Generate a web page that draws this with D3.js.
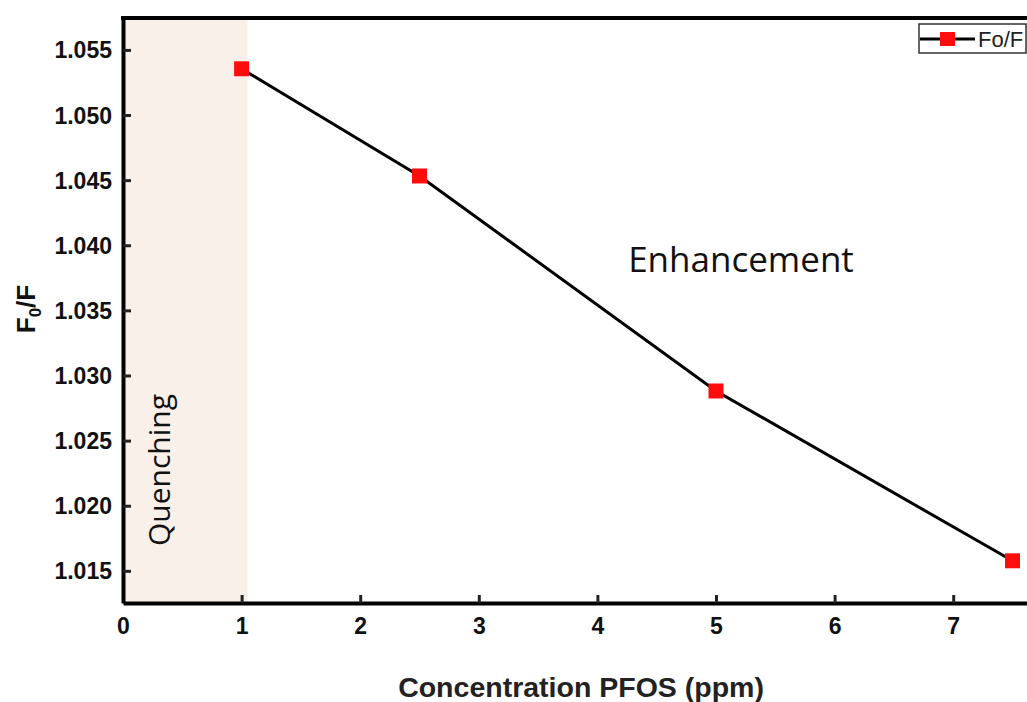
<!DOCTYPE html>
<html>
<head>
<meta charset="utf-8">
<script src="https://cdn.jsdelivr.net/npm/d3@7"></script>
<style>
  body { margin: 0; background: #fff; }
  svg { display: block; font-family: "Liberation Sans", Arial, sans-serif; }
</style>
</head>
<body>
<div id="chart"></div>
<script>
// Data
const concentration = [1, 2.5, 5, 7.5];
const ratio = [1.05355, 1.04532, 1.02881, 1.01577];
const xTicks = [0, 1, 2, 3, 4, 5, 6, 7];
const yTicks = [1.015, 1.020, 1.025, 1.030, 1.035, 1.040, 1.045, 1.050, 1.055];
const quenchEnd = [1.05];

const width = 1027;
const height = 702;
const margin = { left: 123, top: 18, bottom: 99 };

const svg = d3.select('#chart')
  .append('svg')
  .attr('width', width)
  .attr('height', height);

const x = d3.scaleLinear().domain([0, 8]).range([margin.left, margin.left + 8 * 118.6]);
const y = d3.scaleLinear().domain([1.01253, 1.05745]).range([height - margin.bottom, margin.top]);

// Quenching band
svg.append('rect')
  .attr('x', x(0))
  .attr('y', y.range()[1])
  .attr('width', x(quenchEnd[0]) - x(0))
  .attr('height', y.range()[0] - y.range()[1])
  .attr('fill', '#faf0ea');

// Top frame line
svg.append('line')
  .attr('x1', x(0) - 2).attr('x2', width)
  .attr('y1', y.range()[1]).attr('y2', y.range()[1])
  .attr('stroke', '#000').attr('stroke-width', 4);

// Axes
const xAxis = svg.append('g')
  .attr('transform', `translate(0,${y.range()[0]})`)
  .call(d3.axisBottom(x).tickValues(xTicks).tickSize(-8).tickSizeOuter(0).tickFormat(d3.format('d')));

const yAxis = svg.append('g')
  .attr('transform', `translate(${x(0)},0)`)
  .call(d3.axisLeft(y).tickValues(yTicks).tickSize(-8).tickSizeOuter(0).tickPadding(11).tickFormat(d3.format('.3f')));

[xAxis, yAxis].forEach(g => {
  g.select('.domain').attr('stroke', '#000').attr('stroke-width', 4);
  g.selectAll('.tick line').attr('stroke', '#222').attr('stroke-width', 3);
  g.selectAll('.tick text')
    .attr('fill', '#111')
    .style('font-size', '23px')
    .style('font-weight', 'bold')
    .style('font-family', '"Liberation Sans", Arial, sans-serif');
});
xAxis.selectAll('.tick text').attr('y', 31).attr('dy', 0);
yAxis.selectAll('.tick text').attr('dy', '0.35em');

// Line
const line = d3.line()
  .x((d, i) => x(concentration[i]))
  .y(d => y(d));

svg.append('path')
  .datum(ratio)
  .attr('d', line)
  .attr('fill', 'none')
  .attr('stroke', '#000')
  .attr('stroke-width', 3);

// Markers
const mk = 15;
svg.selectAll('.marker')
  .data(ratio)
  .enter()
  .append('rect')
  .attr('class', 'marker')
  .attr('x', (d, i) => x(concentration[i]) - mk / 2)
  .attr('y', d => y(d) - mk / 2)
  .attr('width', mk)
  .attr('height', mk)
  .attr('fill', '#ff0d0d');

// Annotations
svg.append('text')
  .attr('x', 741)
  .attr('y', 272)
  .attr('text-anchor', 'middle')
  .style('font-size', '35px')
  .style('font-family', '"Open Sans", "DejaVu Sans", sans-serif')
  .attr('fill', '#111')
  .text('Enhancement');

svg.append('text')
  .attr('transform', 'translate(170,470) rotate(-90)')
  .attr('text-anchor', 'middle')
  .style('font-size', '30px')
  .style('font-family', '"Open Sans", "DejaVu Sans", sans-serif')
  .attr('fill', '#111')
  .text('Quenching');

// Axis titles
svg.append('text')
  .attr('x', 581)
  .attr('y', 697)
  .attr('text-anchor', 'middle')
  .style('font-size', '28.5px')
  .style('font-weight', 'bold')
  .attr('fill', '#222')
  .text('Concentration PFOS (ppm)');

const yl = svg.append('text')
  .attr('transform', 'translate(35,309) rotate(-90)')
  .attr('text-anchor', 'middle')
  .style('font-size', '26px')
  .style('font-weight', 'bold')
  .attr('fill', '#111');
yl.append('tspan').text('F');
yl.append('tspan').attr('dy', 6).style('font-size', '17px').text('0');
yl.append('tspan').attr('dy', -6).text('/F');

// Legend
const lg = svg.append('g').attr('transform', 'translate(919,24)');
lg.append('rect')
  .attr('width', 107).attr('height', 29)
  .attr('fill', '#fff').attr('stroke', '#333').attr('stroke-width', 1.5);
lg.append('line')
  .attr('x1', 1).attr('x2', 56).attr('y1', 15).attr('y2', 15)
  .attr('stroke', '#000').attr('stroke-width', 3);
lg.append('rect')
  .attr('x', 21).attr('y', 8).attr('width', 15).attr('height', 14)
  .attr('fill', '#ff0d0d');
lg.append('text')
  .attr('x', 59).attr('y', 23)
  .style('font-size', '22px')
  .attr('fill', '#222')
  .text('Fo/F');
</script>
</body>
</html>
